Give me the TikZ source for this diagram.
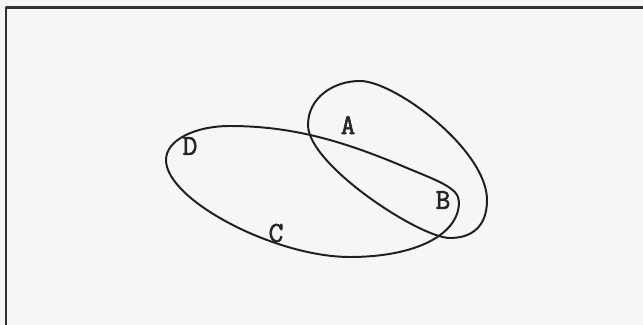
\documentclass[tikz,border=0pt]{standalone}
\usepackage{fontspec}
\newfontfamily\setfont{Latin Modern Mono}[RawFeature={embolden=2}]
\tikzset{
  setline/.style={line width=2.8pt, black!88},
  setlabel/.style={font=\setfont\fontsize{41}{44}\selectfont, inner sep=0pt, text=black!85}
}
\begin{document}
\begin{tikzpicture}[line cap=round,line join=round,x=0.05cm,y=-0.05cm]
	\useasboundingbox (0,0) rectangle (643,325);
	\fill [gray!7] (0,0) rectangle (643,325);
	% frame (cut off right and bottom)
	\draw [line width=3.6pt, black!80] (6,325) -- (6,7.5) -- (643,7.5);
	% set D-C-B
	\draw [setline] (166,160) .. controls (166,140) and (195,126) .. (230,126)
		.. controls (290,126) and (340,140) .. (400,165)
		.. controls (435,180) and (459,187) .. (459,202)
		.. controls (459,235) and (415,257) .. (350,257)
		.. controls (275,257) and (166,200) .. cycle;
	% set A-B
	\draw [setline] (308,125) .. controls (308,98) and (333,81) .. (360,81)
		.. controls (395,81) and (487,150) .. (487,200)
		.. controls (487,230) and (468,238) .. (450,238)
		.. controls (420,238) and (308,165) .. cycle;
	\node [setlabel] (lblA) at (348,125) {A};
	\node [setlabel] (lblB) at (443,200) {B};
	\node [setlabel] (lblC) at (276,233) {C};
	\node [setlabel] (lblD) at (190,146) {D};
\end{tikzpicture}
\end{document}
